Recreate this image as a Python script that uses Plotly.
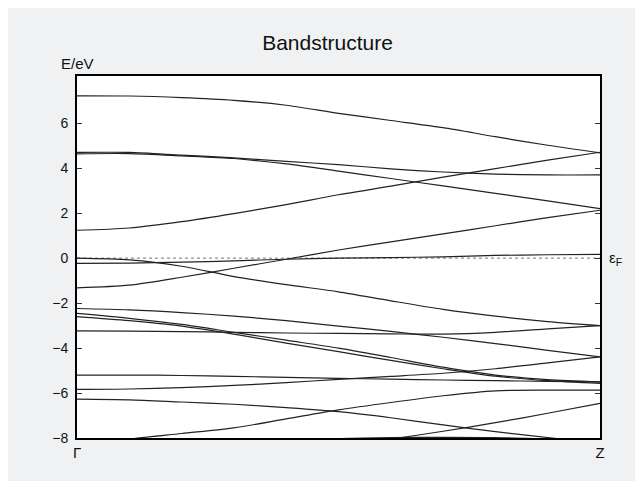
import plotly.graph_objects as go

k = [0.0, 0.1, 0.2, 0.3, 0.4, 0.5, 0.6, 0.7, 0.8, 0.9, 1.0]

band_a = [7.22, 7.21, 7.14, 7.02, 6.80, 6.44, 6.12, 5.80, 5.40, 5.02, 4.68]
band_b = [4.70, 4.70, 4.58, 4.46, 4.30, 4.16, 3.97, 3.83, 3.74, 3.70, 3.70]
band_c = [4.64, 4.65, 4.55, 4.43, 4.19, 3.87, 3.54, 3.21, 2.88, 2.55, 2.20]
band_d = [1.24, 1.34, 1.62, 1.98, 2.38, 2.82, 3.20, 3.60, 3.98, 4.36, 4.71]
band_e = [0.00, -0.08, -0.36, -0.82, -1.18, -1.50, -1.90, -2.28, -2.58, -2.82, -3.00]
band_f = [-1.32, -1.20, -0.85, -0.45, -0.05, 0.36, 0.72, 1.08, 1.44, 1.80, 2.13]
band_g = [-0.23, -0.22, -0.18, -0.12, -0.05, 0.00, 0.02, 0.06, 0.12, 0.15, 0.17]
band_l1 = [-2.24, -2.30, -2.42, -2.58, -2.78, -3.02, -3.26, -3.52, -3.80, -4.10, -4.39]
band_h1 = [-2.46, -2.68, -2.95, -3.30, -3.65, -4.00, -4.42, -4.85, -5.20, -5.40, -5.50]
band_h2 = [-2.60, -2.78, -3.02, -3.38, -3.78, -4.16, -4.55, -4.92, -5.25, -5.45, -5.57]
band_m = [-3.24, -3.25, -3.27, -3.30, -3.33, -3.35, -3.37, -3.38, -3.30, -3.15, -3.00]
band_p = [-5.20, -5.20, -5.22, -5.26, -5.30, -5.35, -5.38, -5.42, -5.45, -5.48, -5.50]
band_q = [-5.84, -5.82, -5.76, -5.66, -5.54, -5.39, -5.26, -5.12, -4.92, -4.66, -4.39]
band_r = [-6.27, -6.30, -6.40, -6.50, -6.65, -6.83, -7.10, -7.42, -7.72, -7.98, -8.25]
band_s = [-8.40, -8.05, -7.80, -7.55, -7.15, -6.75, -6.42, -6.12, -5.90, -5.87, -5.87]
band_t = [-9.50, -9.30, -9.10, -8.90, -8.60, -8.35, -8.05, -7.70, -7.32, -6.90, -6.46]
band_u = [-9.00, -8.80, -8.60, -8.35, -8.15, -8.03, -7.98, -7.97, -7.98, -8.05, -8.15]

bands = [band_a, band_b, band_c, band_d, band_e, band_f, band_g, band_l1,
         band_h1, band_h2, band_m, band_p, band_q, band_r, band_s, band_t, band_u]

y_ticks = [-8, -6, -4, -2, 0, 2, 4, 6]
x_tick_labels = ["Γ", "Z"]
x_tick_pos = [0.0, 1.0]
fermi_level = 0.0

fig = go.Figure()

fig.add_trace(go.Scatter(x=[k[0], k[-1]], y=[fermi_level, fermi_level], mode="lines",
                         line=dict(color="#777777", width=1, dash="dot"),
                         showlegend=False, hoverinfo="skip"))

for b in bands:
    fig.add_trace(go.Scatter(x=k, y=b, mode="lines", line_shape="spline",
                             line=dict(color="#222222", width=1.2, smoothing=0.8),
                             showlegend=False))

fig.update_layout(
    width=643, height=481,
    margin=dict(l=69, r=51, t=68, b=51),
    paper_bgcolor="#f0f1f3",
    plot_bgcolor="white",
    font=dict(family="Liberation Sans, Arial, sans-serif", color="#111111", size=14),
    title=dict(text="Bandstructure", x=0.497, xanchor="center", y=0.928, yanchor="middle",
               font=dict(size=21, color="#111111")),
)

fig.update_xaxes(range=[0, 1], showline=True, linewidth=2, linecolor="black", mirror=True,
                 showgrid=False, zeroline=False, tickvals=x_tick_pos, ticktext=x_tick_labels,
                 ticks="", tickfont=dict(size=15))
fig.update_yaxes(range=[-8, 8.1], showline=True, linewidth=2, linecolor="black", mirror="ticks",
                 showgrid=False, zeroline=False, tickvals=y_ticks, ticks="inside", ticklen=5,
                 tickcolor="#333333", tickfont=dict(size=14), ticklabelstandoff=4)

fig.add_annotation(text="E/eV", xref="paper", yref="paper", x=0.0, y=1.0, xanchor="center",
                   yanchor="bottom", yshift=2, showarrow=False, font=dict(size=15))
fig.add_annotation(text="ε<sub>F</sub>", xref="paper", yref="y", x=1.0, y=fermi_level,
                   xanchor="left", yanchor="middle", xshift=7, showarrow=False,
                   font=dict(size=15))

fig.write_html("out.html")
